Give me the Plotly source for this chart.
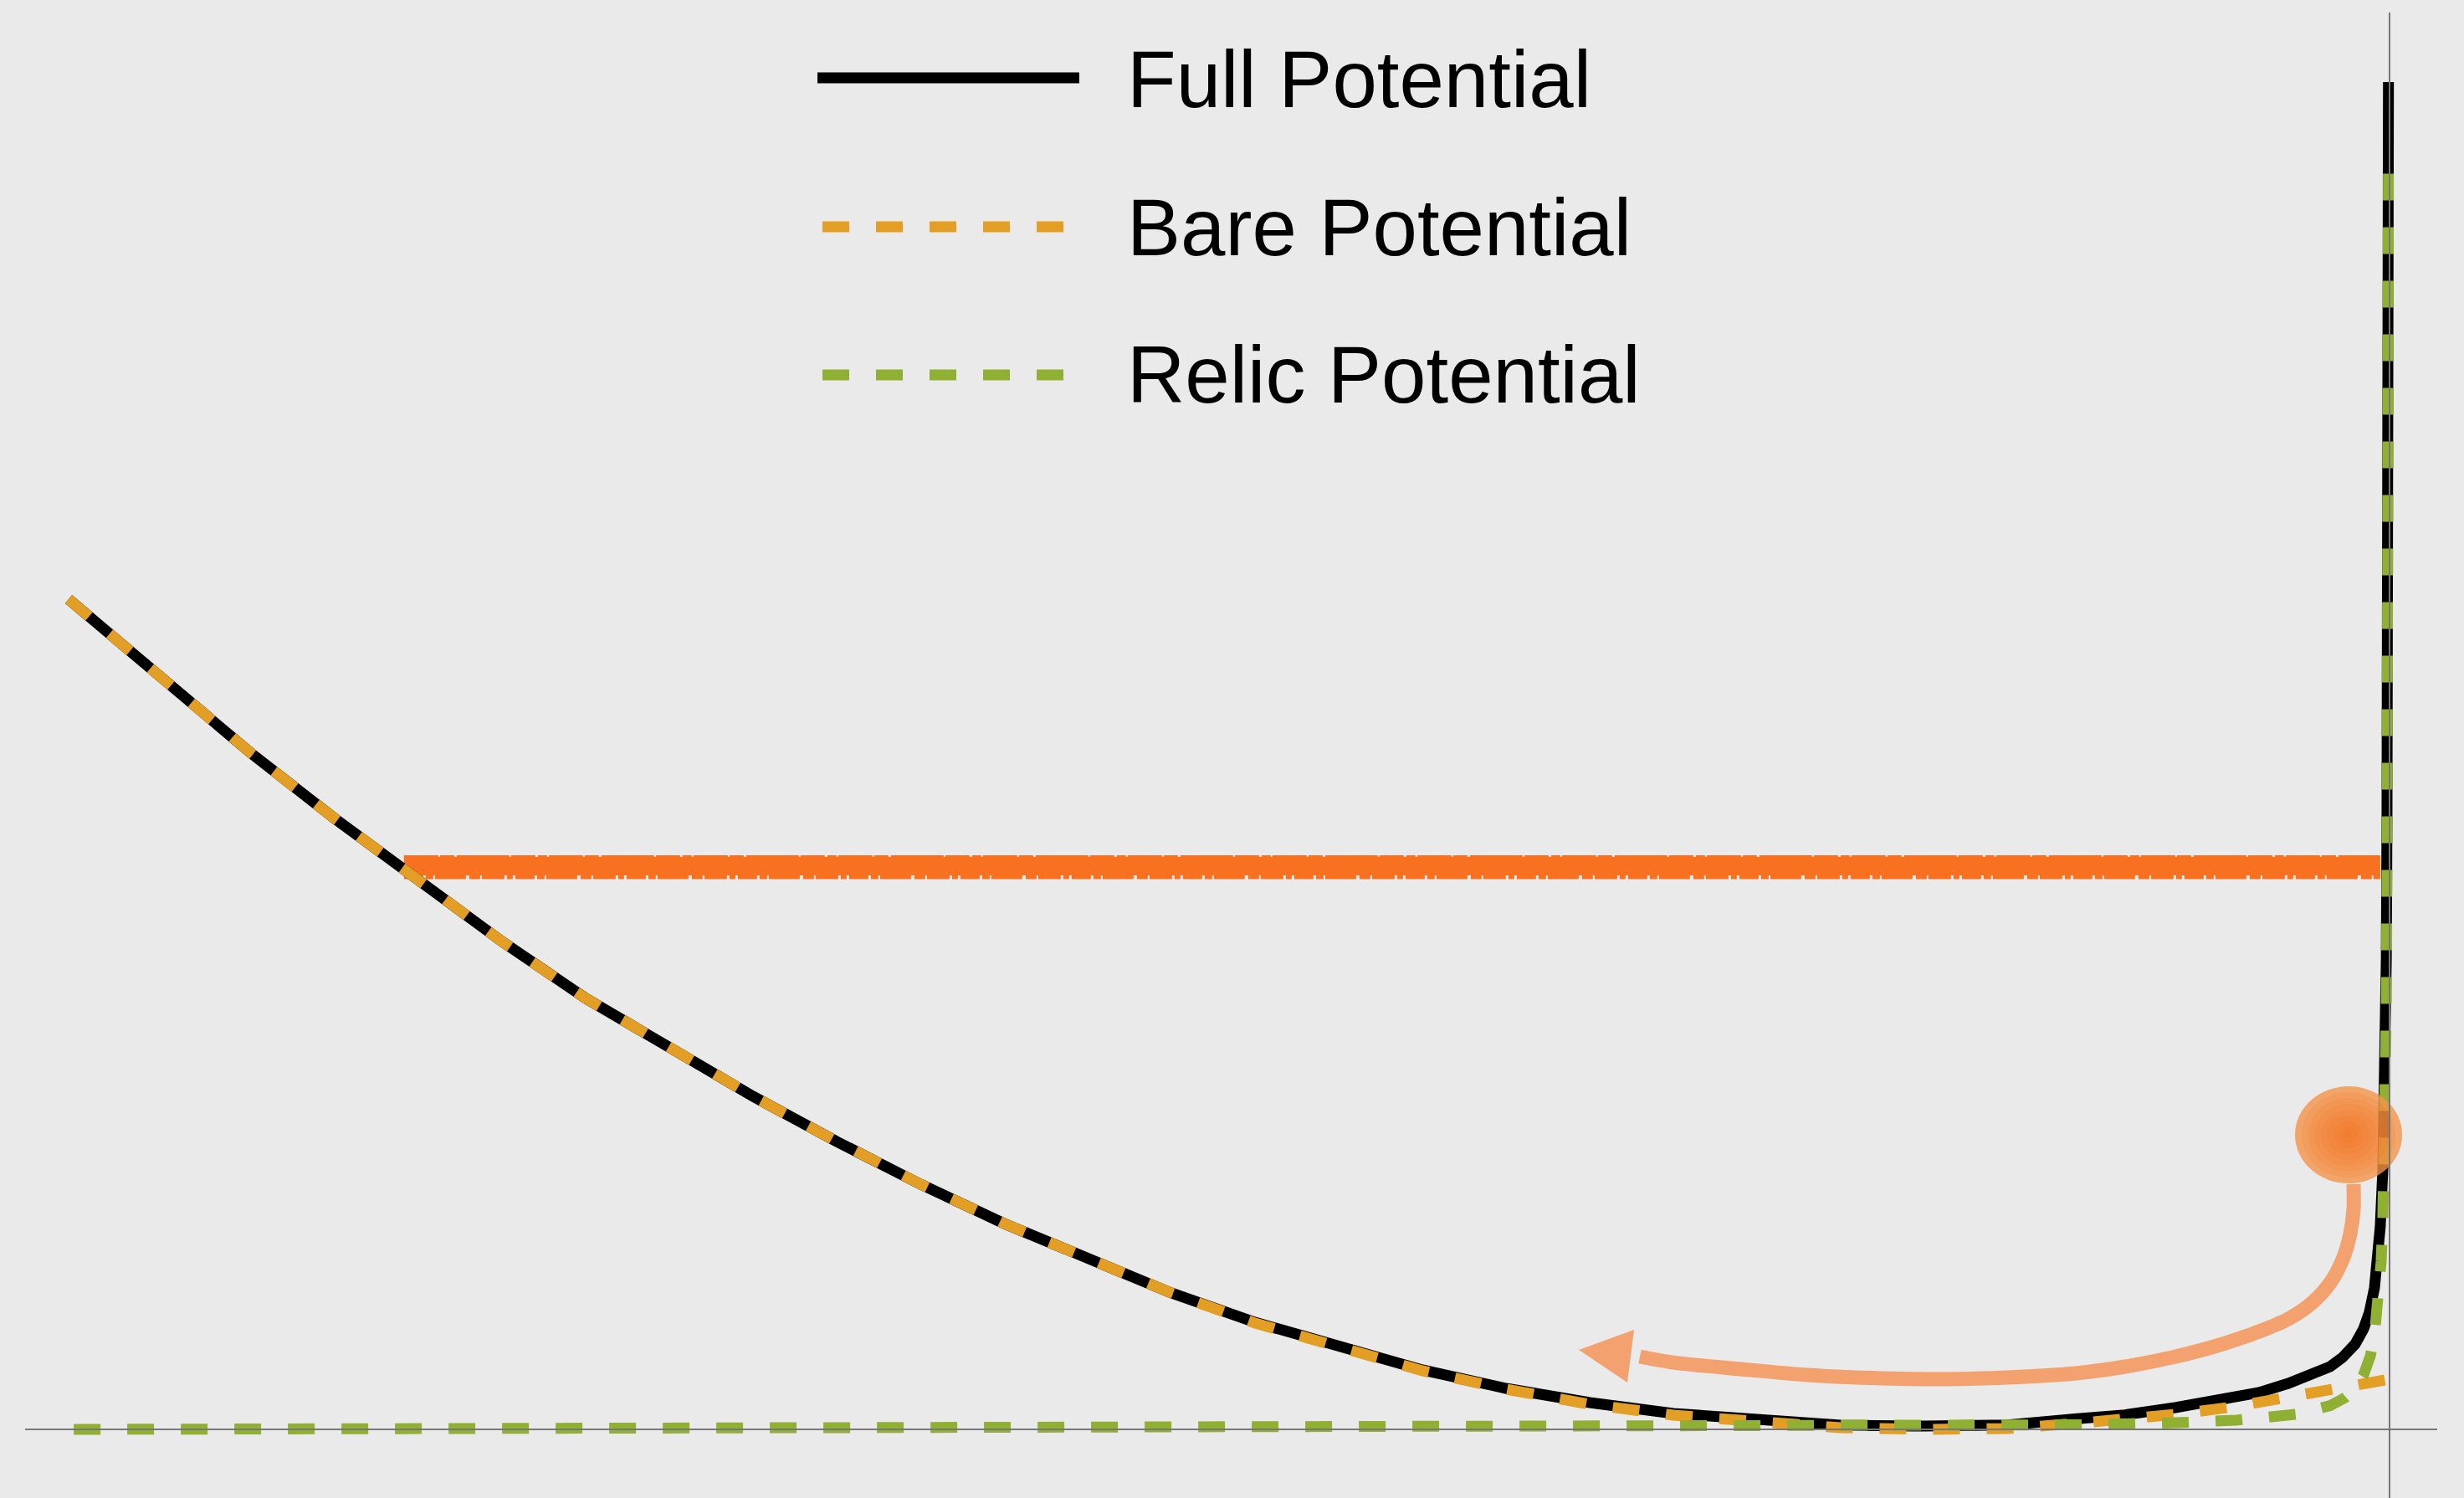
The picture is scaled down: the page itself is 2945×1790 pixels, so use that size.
import plotly.graph_objects as go

# ---------------------------------------------------------------------------
# Potential curves (field value on x, potential on y; arbitrary units)
# ---------------------------------------------------------------------------
x_full = [-1.0, -0.9575, -0.9214, -0.8854, -0.8493, -0.8133, -0.7772, -0.7412,
          -0.7051, -0.6691, -0.6330, -0.5970, -0.5609, -0.5249, -0.4888, -0.4528,
          -0.4167, -0.3807, -0.3446, -0.3086, -0.2725, -0.2365, -0.2004, -0.1644,
          -0.1355, -0.1139, -0.0923, -0.0671, -0.0562, -0.0436, -0.0310, -0.0256,
          -0.0202, -0.0148, -0.0112, -0.0087, -0.0065, -0.0050, -0.0040, -0.0029,
          -0.0022, -0.0018, -0.0014, -0.0011, -0.0007, -0.00047]
v_full = [1.0, 0.8982, 0.8145, 0.7359, 0.6603, 0.5877, 0.5192, 0.4587,
          0.4012, 0.3468, 0.2954, 0.2480, 0.2046, 0.1643, 0.1290, 0.0988,
          0.0716, 0.0494, 0.0323, 0.0192, 0.0111, 0.0050, 0.0040, 0.0054,
          0.0126, 0.0175, 0.0262, 0.0383, 0.0444, 0.0554, 0.0675, 0.0756,
          0.0867, 0.1028, 0.1210, 0.1411, 0.1704, 0.2036, 0.2440, 0.3125,
          0.3972, 0.4647, 0.5665, 0.7359, 1.0746, 1.6230]

x_bare = [-1.0, -0.9575, -0.9214, -0.8854, -0.8493, -0.8133, -0.7772, -0.7412,
          -0.7051, -0.6691, -0.6330, -0.5970, -0.5609, -0.5249, -0.4888, -0.4528,
          -0.4167, -0.3807, -0.3446, -0.3086, -0.2725, -0.2365, -0.2004, -0.1644,
          -0.1355, -0.1139, -0.0923, -0.0671, -0.0436, -0.0202, 0.0]
v_bare = [1.0, 0.8982, 0.8145, 0.7359, 0.6603, 0.5877, 0.5192, 0.4587,
          0.4012, 0.3468, 0.2954, 0.2480, 0.2046, 0.1643, 0.1280, 0.0978,
          0.0706, 0.0484, 0.0302, 0.0171, 0.0081, 0.0020, 0.0, 0.0010,
          0.0071, 0.0111, 0.0181, 0.0272, 0.0383, 0.0504, 0.0605]

x_relic = [-0.9978, -0.8133, -0.5970, -0.3807, -0.2725, -0.2004, -0.1327, -0.0923,
           -0.0660, -0.0400, -0.0256, -0.0191, -0.0148, -0.0112, -0.0083, -0.0065,
           -0.0047, -0.0036, -0.0029, -0.0022, -0.0018, -0.0014, -0.0011, -0.0007,
           -0.00047]
v_relic = [0.0, 0.0009, 0.0012, 0.0019, 0.0027, 0.0036, 0.0055, 0.0080,
           0.0111, 0.0182, 0.0286, 0.0383, 0.0494, 0.0655, 0.0882, 0.1129,
           0.1563, 0.2026, 0.2540, 0.3377, 0.4062, 0.5073, 0.6764, 1.0145,
           1.5423]

# Energy level of the field and its turning points
energy_level = 0.6784
energy_x = [-0.8555, -0.0040]

# Field position (blob) and the roll-back arrow
blob_x, blob_y = -0.01766, 0.3548
blob_rx, blob_ry = 0.02307, 0.05847
arrow_x = [-0.0155, -0.0155, -0.0170, -0.0202, -0.0256, -0.0335, -0.0436,
           -0.0562, -0.0743, -0.0937, -0.1139, -0.1352, -0.1644, -0.1911,
           -0.2185, -0.2509, -0.2797, -0.3086, -0.3230]
arrow_y = [0.2954, 0.2651, 0.2349, 0.2046, 0.1764, 0.1522, 0.1331,
           0.1179, 0.1008, 0.0867, 0.0756, 0.0675, 0.0625, 0.0605,
           0.0615, 0.0655, 0.0726, 0.0806, 0.0877]
head_x = [-0.3493, -0.3255, -0.3284, -0.3493]
head_y = [0.0958, 0.1200, 0.0565, 0.0958]

legend_names = ["Full Potential", "Bare Potential", "Relic Potential"]

BLACK = "#000000"
ORANGE = "#E39E25"
GREEN = "#8FB033"
BAND = "#F87121"
SALMON = "#F3A16F"
BG = "#EAEAEA"
AXIS = "#777777"
LW = 13

W, H = 2945, 1790
XR = [-1.02956, 0.032084]
YR = [-0.082661, 1.721774]

fig = go.Figure()

# energy band with a rough, hand-drawn edge
fig.add_trace(go.Scatter(x=energy_x, y=[energy_level] * 2, mode="lines",
                         line=dict(color=BAND, width=22), hoverinfo="skip",
                         showlegend=False))
fig.add_trace(go.Scatter(x=energy_x, y=[energy_level + 0.0105] * 2, mode="lines",
                         line=dict(color=BAND, width=5,
                                   dash="41px,2px,17px,3px,63px,2px,29px,3px,11px,2px"),
                         hoverinfo="skip", showlegend=False))
fig.add_trace(go.Scatter(x=energy_x, y=[energy_level - 0.0120] * 2, mode="lines",
                         line=dict(color=BAND, width=7,
                                   dash="23px,3px,9px,2px,37px,4px,13px,2px,27px,3px,7px,3px"),
                         hoverinfo="skip", showlegend=False))

# potentials
fig.add_trace(go.Scatter(x=x_full, y=v_full, mode="lines", name=legend_names[0],
                         line=dict(color=BLACK, width=LW), showlegend=False))
fig.add_trace(go.Scatter(x=x_bare, y=v_bare, mode="lines", name=legend_names[1],
                         line=dict(color=ORANGE, width=LW, dash="32px,32px"),
                         showlegend=False))
fig.add_trace(go.Scatter(x=x_relic, y=v_relic, mode="lines", name=legend_names[2],
                         line=dict(color=GREEN, width=LW, dash="32px,32px"),
                         showlegend=False))

# arrow
fig.add_trace(go.Scatter(x=arrow_x, y=arrow_y, mode="lines",
                         line=dict(color=SALMON, width=17, shape="spline",
                                   smoothing=0.8),
                         hoverinfo="skip", showlegend=False))
fig.add_trace(go.Scatter(x=head_x, y=head_y, mode="lines", fill="toself",
                         fillcolor=SALMON, line=dict(color=SALMON, width=0),
                         hoverinfo="skip", showlegend=False))

shapes = []

# glowing field blob: translucent base plus stacked inner layers
shapes.append(dict(type="circle", xref="x", yref="y", layer="above",
                   x0=blob_x - blob_rx, x1=blob_x + blob_rx,
                   y0=blob_y - blob_ry, y1=blob_y + blob_ry,
                   fillcolor="rgba(244,148,72,0.80)", line=dict(width=0)))
for f in [0.88, 0.76, 0.64, 0.52, 0.40, 0.28, 0.17, 0.08]:
    shapes.append(dict(type="circle", xref="x", yref="y", layer="above",
                       x0=blob_x - blob_rx * f, x1=blob_x + blob_rx * f,
                       y0=blob_y - blob_ry * f, y1=blob_y + blob_ry * f,
                       fillcolor="rgba(248,106,26,0.13)", line=dict(width=0)))

# axes crossing at the origin
shapes.append(dict(type="line", xref="x", yref="y", layer="above",
                   x0=-1.01875, x1=0.020548, y0=0, y1=0,
                   line=dict(color=AXIS, width=2)))
shapes.append(dict(type="line", xref="x", yref="y", layer="above",
                   x0=0, x1=0, y0=YR[0], y1=1.70665,
                   line=dict(color=AXIS, width=2)))

# legend samples
leg_y = [1 - 93 / H, 1 - 271 / H, 1 - 448 / H]
shapes.append(dict(type="line", xref="paper", yref="paper",
                   x0=977 / W, x1=1290 / W, y0=leg_y[0], y1=leg_y[0],
                   line=dict(color=BLACK, width=LW)))
shapes.append(dict(type="line", xref="paper", yref="paper",
                   x0=983 / W, x1=1271 / W, y0=leg_y[1], y1=leg_y[1],
                   line=dict(color=ORANGE, width=LW, dash="32px,32px")))
shapes.append(dict(type="line", xref="paper", yref="paper",
                   x0=983 / W, x1=1271 / W, y0=leg_y[2], y1=leg_y[2],
                   line=dict(color=GREEN, width=LW, dash="32px,32px")))

text_y = [1 - 94 / H, 1 - 271 / H, 1 - 448 / H]
annotations = [dict(text=name, xref="paper", yref="paper", x=1345 / W, y=ty,
                    xanchor="left", yanchor="middle", showarrow=False,
                    font=dict(family="Liberation Sans, Arial, sans-serif",
                              size=96, color=BLACK))
               for name, ty in zip(legend_names, text_y)]

fig.update_layout(
    width=W, height=H,
    margin=dict(l=0, r=0, t=0, b=0, pad=0),
    paper_bgcolor=BG, plot_bgcolor=BG,
    xaxis=dict(range=XR, visible=False, fixedrange=True),
    yaxis=dict(range=YR, visible=False, fixedrange=True),
    shapes=shapes, annotations=annotations,
    showlegend=False,
)

fig.write_html("out.html", post_script="document.body.style.margin='0';")
